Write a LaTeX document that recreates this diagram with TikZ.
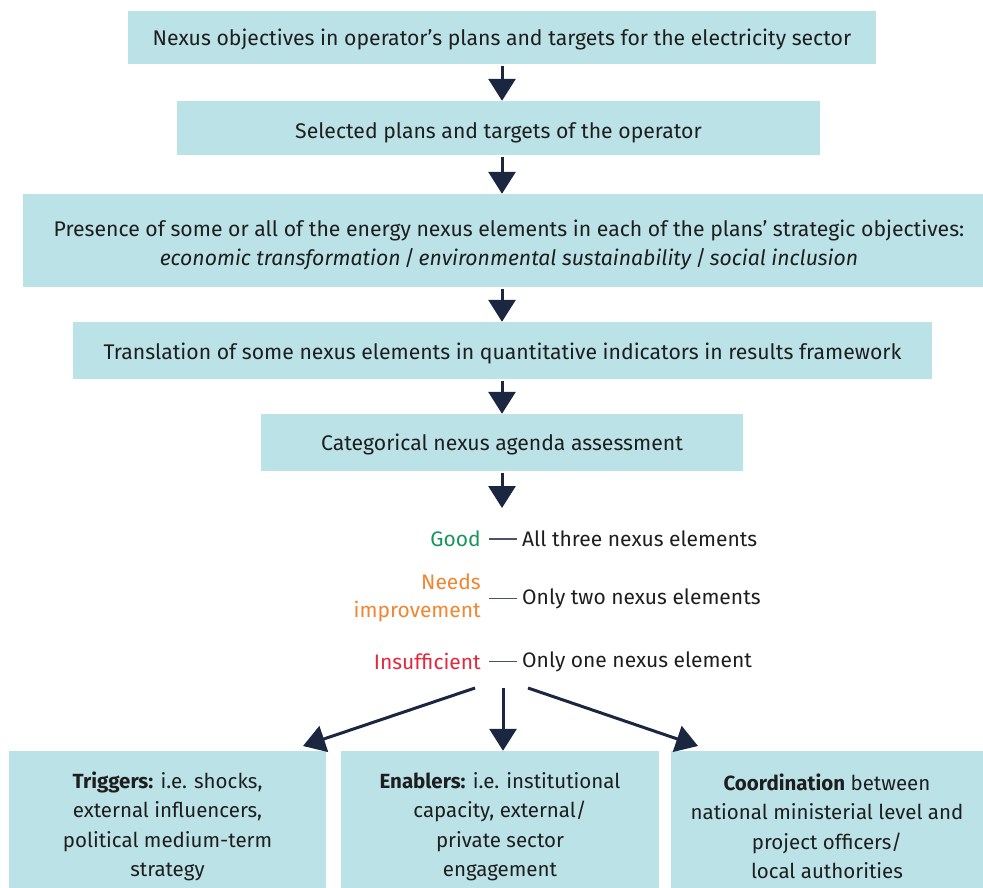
\documentclass[tikz,border=0pt]{standalone}
\usepackage{fontspec}
\setmainfont{Fira Sans}
\usetikzlibrary{arrows.meta}
\definecolor{boxfill}{HTML}{BBE2E7}
\definecolor{navy}{HTML}{1B2640}
\definecolor{rulegray}{HTML}{4A5468}
\definecolor{goodgreen}{HTML}{17955A}
\definecolor{needorange}{HTML}{F08532}
\definecolor{insred}{HTML}{E3283E}
\definecolor{textdark}{HTML}{1E1E1E}
\begin{document}
\begin{tikzpicture}[x=1pt,y=-1pt,
  every node/.style={inner sep=0pt, text=textdark},
  panel/.style={fill=boxfill, draw=none},
  flowtext/.style={align=center, font=\fontsize{21.2}{29}\selectfont},
  flowarrow/.style={navy, line width=3pt, -{Triangle[width=27pt,length=22pt]}, shorten <=2pt},
  legendtxt/.style={font=\fontsize{21}{28}\selectfont},
  legendrule/.style={rulegray, line width=1.5pt},
  lowtext/.style={align=center, font=\fontsize{20.5}{29.5}\selectfont}
]
\useasboundingbox (0,0) rectangle (983,888);

% main chain of assessment steps
\node[panel, minimum width=748pt, minimum height=53pt] (b1) at (502,37.5) {};
\node[flowtext] (t1) at ([yshift=-2pt]b1.center)
  {Nexus objectives in operator’s plans and targets for the electricity sector};
\node[panel, minimum width=643pt, minimum height=54pt] (b2) at (498.5,128) {};
\node[flowtext] (t2) at ([yshift=-4.5pt]b2.center)
  {Selected plans and targets of the operator};
\node[panel, minimum width=960pt, minimum height=93pt] (b3) at (503,240.5) {};
\node[flowtext] (t3) at ([xshift=6pt,yshift=-4pt]b3.center)
  {Presence of some or all of the energy nexus elements in each of the plans’ strategic objectives:\\
   \textit{economic transformation}\,/\,\textit{environmental sustainability}\,/\,\textit{social inclusion}};
\node[panel, minimum width=859pt, minimum height=57pt] (b4) at (502.5,350.5) {};
\node[flowtext] (t4) at ([yshift=-3pt]b4.center)
  {Translation of some nexus elements in quantitative indicators in results framework};
\node[panel, minimum width=482pt, minimum height=57pt] (b5) at (502,442.5) {};
\node[flowtext] (t5) at ([yshift=-2pt]b5.center)
  {Categorical nexus agenda assessment};

\draw[flowarrow] (b1.south -| 502,0) -- (b2.north -| 502,0);
\draw[flowarrow] (b2.south -| 502,0) -- (b3.north -| 502,0);
\draw[flowarrow] (b3.south -| 502,0) -- (b4.north -| 502,0);
\draw[flowarrow] (b4.south -| 502,0) -- (b5.north -| 502,0);
\coordinate (legtop) at (502,508);
\draw[flowarrow] (b5.south -| 502,0) -- (legtop);

% rating legend
\node[legendtxt, anchor=east, text=goodgreen] (good) at (481,539) {Good};
\node[legendtxt, anchor=west] (goodd) at (522,539) {All three nexus elements};
\draw[legendrule] (good.east) ++(8,0) -- ([xshift=-5pt]goodd.west);

\node[legendtxt, anchor=east, align=right, text=needorange] (needs) at (481,598) {Needs\\improvement};
\node[legendtxt, anchor=west] (needsd) at (522,598.5) {Only two nexus elements};
\draw[legendrule] ([xshift=8pt]needs.east |- needsd.west) -- ([xshift=-5pt]needsd.west);

\node[legendtxt, anchor=east, text=insred] (insuf) at (481,661.5) {Insufficient};
\node[legendtxt, anchor=west] (insufd) at (522,661.5) {Only one nexus element};
\draw[legendrule] (insuf.east) ++(8,0) -- ([xshift=-5pt]insufd.west);

% contextual factors
\node[panel, minimum width=317pt, minimum height=137pt] (trig) at (167.5,819.5) {};
\node[lowtext] (trigtxt) at ([yshift=-7pt]trig.center)
  {\textbf{Triggers:} i.e. shocks,\\external influencers,\\political medium-term\\strategy};
\node[panel, minimum width=318pt, minimum height=137pt] (enab) at (500,819.5) {};
\node[lowtext] (enabtxt) at ([yshift=-7pt]enab.center)
  {\textbf{Enablers:} i.e. institutional\\capacity, external/\\private sector\\engagement};
\node[panel, minimum width=312pt, minimum height=137pt] (coord) at (827,819.5) {};
\node[lowtext] (coordtxt) at ([yshift=-7pt]coord.center)
  {\textbf{Coordination} between\\national ministerial level and\\project officers/\\local authorities};

\coordinate (sl) at (475,688);
\coordinate (sc) at (503,688);
\coordinate (sr) at (528,688);
\coordinate (tl) at (303,746);
\coordinate (tr) at (698,746);
\draw[flowarrow, shorten <=0pt] (sl) -- (tl);
\draw[flowarrow, shorten <=0pt] (sc) -- (sc |- enab.north);
\draw[flowarrow, shorten <=0pt] (sr) -- (tr);
\end{tikzpicture}
\end{document}
